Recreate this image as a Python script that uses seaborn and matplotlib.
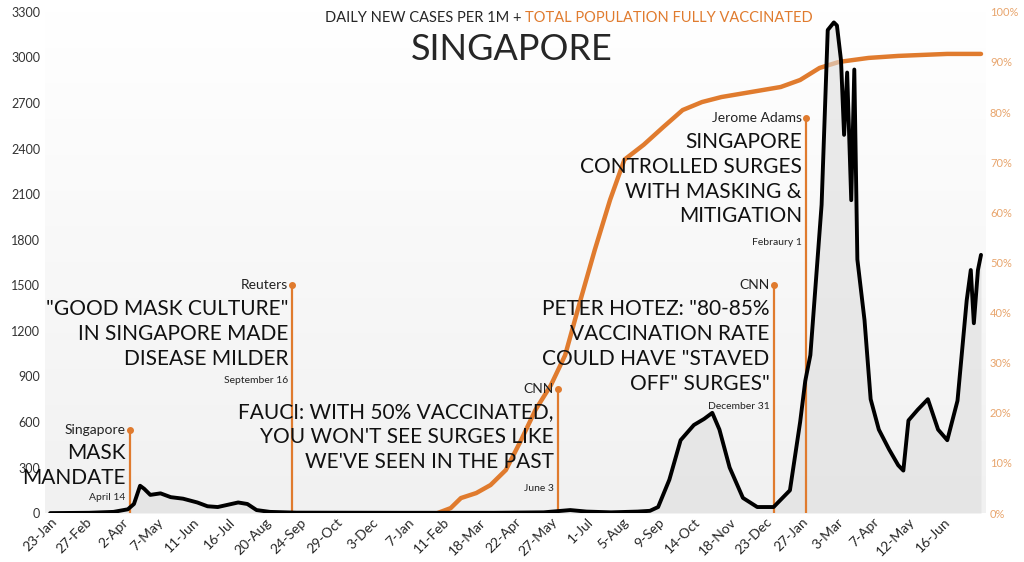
import numpy as np
import pandas as pd
import matplotlib.pyplot as plt
import seaborn as sns

# daily new cases per 1M
case_dates = ["2020-01-23", "2020-03-01", "2020-03-25", "2020-04-08", "2020-04-14", "2020-04-20",
              "2020-04-24", "2020-04-30", "2020-05-10", "2020-05-20", "2020-06-01", "2020-06-15",
              "2020-06-25", "2020-07-05", "2020-07-15", "2020-07-25", "2020-08-03", "2020-08-12",
              "2020-08-25", "2020-09-20", "2021-01-01", "2021-04-01", "2021-05-20", "2021-06-15",
              "2021-07-01", "2021-07-25", "2021-08-20", "2021-09-01", "2021-09-09", "2021-09-20",
              "2021-10-01", "2021-10-14", "2021-10-24", "2021-11-01", "2021-11-08", "2021-11-18",
              "2021-12-01", "2021-12-15", "2021-12-31", "2022-01-16", "2022-01-26", "2022-01-31",
              "2022-02-05", "2022-02-09", "2022-02-16", "2022-02-22", "2022-02-28", "2022-03-03",
              "2022-03-07", "2022-03-10", "2022-03-13", "2022-03-17", "2022-03-20", "2022-03-23",
              "2022-03-30", "2022-04-05", "2022-04-13", "2022-04-23", "2022-05-02", "2022-05-07",
              "2022-05-12", "2022-05-21", "2022-05-31", "2022-06-10", "2022-06-19", "2022-06-29",
              "2022-07-08", "2022-07-12", "2022-07-15", "2022-07-19", "2022-07-22"]
case_values = [0, 2, 8, 25, 60, 180,
               160, 120, 130, 105, 95, 70,
               45, 40, 55, 70, 60, 20,
               8, 3, 2, 2, 5, 20,
               10, 5, 10, 15, 40, 220,
               480, 580, 620, 660, 550, 300,
               100, 40, 40, 150, 600, 870,
               1040, 1400, 2030, 3180, 3230, 3210,
               2980, 2490, 2900, 2060, 2920, 1670,
               1270, 750, 550, 420, 315, 280,
               610, 680, 750, 550, 480, 740,
               1400, 1600, 1250, 1600, 1700]

# share of population fully vaccinated (%)
vax_dates = ["2021-02-05", "2021-02-18", "2021-02-28", "2021-03-15", "2021-03-29", "2021-04-13",
             "2021-04-28", "2021-05-12", "2021-05-27", "2021-06-10", "2021-06-25", "2021-07-09",
             "2021-07-24", "2021-08-07", "2021-08-26", "2021-09-14", "2021-10-03", "2021-10-22",
             "2021-11-10", "2021-12-09", "2022-01-07", "2022-01-26", "2022-02-14", "2022-03-05",
             "2022-04-03", "2022-05-02", "2022-06-19", "2022-07-22"]
vax_values = [0, 1, 3, 4, 5.6, 8.6,
              14.6, 20.6, 25.5, 31.5, 42.5, 52.5,
              62.5, 70.5, 73.5, 77, 80.4, 82,
              83, 84, 85, 86.4, 88.8, 90,
              90.8, 91.2, 91.6, 91.6]

cases = pd.DataFrame({"date": pd.to_datetime(case_dates), "cases": case_values})
vax = pd.DataFrame({"date": pd.to_datetime(vax_dates), "vax": vax_values})

ORANGE = "#e07b2e"
sns.set_style("white")
plt.rcParams["font.family"] = ["Lato", "DejaVu Sans"]

fig = plt.figure(figsize=(10.24, 5.62), dpi=100)
ax = fig.add_axes([0.044, 0.087, 0.918, 0.892])
ax2 = ax.twinx()
ax.set_zorder(ax2.get_zorder() + 1)
ax.patch.set_visible(False)

# background gradient (grey at bottom fading to white)
grad = np.linspace(0, 1, 256).reshape(-1, 1)
ax2.imshow(grad, extent=[0, 1, 0, 1], transform=ax2.transAxes, aspect="auto",
           cmap=sns.blend_palette(["#ffffff", "#f1f1f1"], as_cmap=True), origin="upper", zorder=0)

sns.lineplot(data=vax, x="date", y="vax", ax=ax2, color=ORANGE, lw=3.2)
ax.fill_between(cases["date"], cases["cases"], color="#dedede", alpha=0.6, lw=0)
sns.lineplot(data=cases, x="date", y="cases", ax=ax, color="black", lw=2.8, zorder=5)

start, end = pd.Timestamp("2020-01-18"), pd.Timestamp("2022-07-26")
ax.set_xlim(start, end)
ax.set_ylim(0, 3300)
ax2.set_ylim(0, 100)
ax.set_yticks(range(0, 3301, 300))
ax2.set_yticks(range(0, 101, 10))
ax2.set_yticklabels([f"{v}%" for v in range(0, 101, 10)])
ticks = pd.date_range("2020-01-23", periods=26, freq="35D")
ax.set_xticks(ticks)
ax.set_xticklabels([f"{d.day}-{d.strftime('%b')}" for d in ticks], rotation=45,
                   ha="right", rotation_mode="anchor", fontsize=10)
ax.tick_params(axis="y", labelsize=9, colors="#333333", length=0)
ax2.tick_params(axis="y", labelsize=8, colors="#e8a56d", length=0)
ax.tick_params(axis="x", length=0, pad=2)
for a in (ax, ax2):
    a.set_xlabel("")
    a.set_ylabel("")
    for s in a.spines.values():
        s.set_visible(False)

# annotations: date, line top, header, body, footer value
notes = [
    ("2020-04-10", 550, "Singapore", "MASK\nMANDATE", "April 14", 105),
    ("2020-09-16", 1500, "Reuters", "\"GOOD MASK CULTURE\"\nIN SINGAPORE MADE\nDISEASE MILDER",
     "September 16", 876),
    ("2021-06-03", 820, "CNN", "FAUCI: WITH 50% VACCINATED,\nYOU WON'T SEE SURGES LIKE\nWE'VE SEEN IN THE PAST",
     "June 3", 160),
    ("2021-12-31", 1500, "CNN", "PETER HOTEZ: \"80-85%\nVACCINATION RATE\nCOULD HAVE \"STAVED\nOFF\" SURGES\"",
     "December 31", 700),
    ("2022-02-01", 2600, "Jerome Adams", "SINGAPORE\nCONTROLLED SURGES\nWITH MASKING &\nMITIGATION",
     "Febraury 1", 1780),
]
for d, top, head, body, foot, fy in notes:
    d = pd.Timestamp(d)
    ax.vlines(d, 0, top, color=ORANGE, lw=1.6, zorder=3)
    ax.plot([d], [top], "o", color=ORANGE, ms=4, zorder=3)
    ax.annotate(head, (d, top), xytext=(-3, 0), textcoords="offset points",
                ha="right", va="center", fontsize=10, color="#222222")
    ax.annotate(body, (d, top), xytext=(-3, -10), textcoords="offset points",
                ha="right", va="top", fontsize=15, linespacing=1.3, color="#111111")
    ax.annotate(foot, (d, fy), xytext=(-3, 0), textcoords="offset points",
                ha="right", va="center", fontsize=7.5, color="#222222")

fig.text(0.513, 0.968, "DAILY NEW CASES PER 1M + ", ha="right", va="center", fontsize=10.5)
fig.text(0.513, 0.968, "TOTAL POPULATION FULLY VACCINATED", ha="left", va="center",
         fontsize=10.5, color=ORANGE)
fig.text(0.5, 0.912, "SINGAPORE", ha="center", va="center", fontsize=26)

fig.savefig("out.png", dpi=100)
